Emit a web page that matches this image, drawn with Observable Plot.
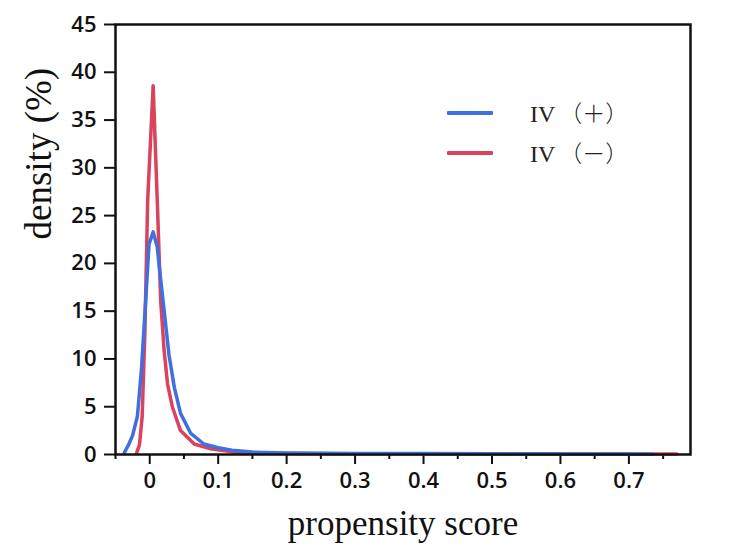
<!DOCTYPE html>
<html>
<head>
<meta charset="utf-8">
<script src="https://cdn.jsdelivr.net/npm/d3@7"></script>
<script src="https://cdn.jsdelivr.net/npm/@observablehq/plot@0.6"></script>
<style>
  html, body { margin: 0; padding: 0; background: #fff; }
  #wrap { position: relative; width: 750px; height: 556px; }
  .leg { position: absolute; left: 447px; display: flex; align-items: center; height: 24px; }
  .leg .sw { width: 46px; height: 4px; border-radius: 1px; }
  .leg .lab { margin-left: 37px; font-size: 23px; color: #222; white-space: nowrap; line-height: 24px; }
  .leg .iv { font-family: "Liberation Serif", serif; font-size: 24px; }
  .leg .pm { font-family: "Noto Sans CJK SC", sans-serif; font-weight: 300; margin-left: 4px; }
</style>
</head>
<body>
<div id="wrap"></div>
<script>
const seriesNames = ["IV（＋）", "IV（－）"];
const seriesColors = ["#3f6fe0", "#d9435b"];

// IV(+) series
const plusX = [-0.037, -0.031, -0.025, -0.018, -0.012, -0.006, -0.001, 0.005, 0.011, 0.014, 0.021, 0.028, 0.036, 0.045, 0.06, 0.079, 0.1, 0.12, 0.15, 0.2, 0.3, 0.4, 0.5, 0.6, 0.7, 0.735];
const plusY = [0.2, 1.0, 2.0, 4.0, 9.0, 16.0, 22.0, 23.3, 21.7, 19.6, 15.1, 10.5, 7.0, 4.3, 2.2, 1.1, 0.7, 0.45, 0.25, 0.15, 0.1, 0.1, 0.08, 0.06, 0.05, 0.03];

// IV(-) series
const minusX = [-0.019, -0.015, -0.011, -0.007, -0.003, 0.005, 0.011, 0.016, 0.021, 0.026, 0.033, 0.045, 0.065, 0.089, 0.123, 0.15, 0.2, 0.3, 0.4, 0.5, 0.6, 0.7, 0.77];
const minusY = [0.2, 1.0, 4.0, 13.0, 26.6, 38.6, 26.6, 16.1, 10.9, 7.4, 5.0, 2.5, 1.1, 0.6, 0.25, 0.15, 0.1, 0.08, 0.08, 0.05, 0.05, 0.05, 0.05];

const xMajorTicks = [0, 0.1, 0.2, 0.3, 0.4, 0.5, 0.6, 0.7];
const xMinorTicks = [-0.05, 0.05, 0.15, 0.25, 0.35, 0.45, 0.55, 0.65, 0.75];
const xTickLabels = ["0", "0.1", "0.2", "0.3", "0.4", "0.5", "0.6", "0.7"];
const yTicks = [0, 5, 10, 15, 20, 25, 30, 35, 40, 45];
const yTickLabels = ["0", "5", "10", "15", "20", "25", "30", "35", "40", "45"];

const xLabel = "propensity score";
const yLabel = "density (%)";

const plusData = plusX.map((x, i) => ({x, y: plusY[i]}));
const minusData = minusX.map((x, i) => ({x, y: minusY[i]}));

const tickFont = {fontFamily: "'Open Sans', sans-serif", fontSize: 22, fontWeight: 600};

const chart = Plot.plot({
  width: 750,
  height: 556,
  marginLeft: 115,
  marginRight: 60,
  marginTop: 24,
  marginBottom: 102,
  style: {background: "#fff", color: "#111", fontFamily: "'Open Sans', sans-serif"},
  x: {domain: [-0.05, 0.79], label: null},
  y: {domain: [0, 45], label: null},
  marks: [
    Plot.axisY({ticks: yTicks, tickSize: 11, tickPadding: 8, strokeWidth: 2,
      tickFormat: d => yTickLabels[yTicks.indexOf(d)], label: null, ...tickFont, fill: "#111"}),
    Plot.axisX({ticks: xMajorTicks, tickSize: 10, tickPadding: 8, strokeWidth: 2,
      tickFormat: d => xTickLabels[xMajorTicks.indexOf(d)], label: null, ...tickFont, fill: "#111"}),
    Plot.axisX({ticks: xMinorTicks, tickSize: 5, strokeWidth: 2, text: null, label: null}),
    Plot.line(minusData, {x: "x", y: "y", stroke: seriesColors[1], strokeWidth: 3.5, curve: "linear"}),
    Plot.line(plusData, {x: "x", y: "y", stroke: seriesColors[0], strokeWidth: 3.5, curve: "linear"}),
    Plot.frame({stroke: "#111", strokeWidth: 2.5}),
    Plot.text([yLabel], {text: d => d, frameAnchor: "left", rotate: -90, dx: -76,
      fontFamily: "'Liberation Serif', serif", fontSize: 37, fill: "#111"}),
    Plot.text([xLabel], {text: d => d, frameAnchor: "bottom", dy: 80,
      fontFamily: "'Liberation Serif', serif", fontSize: 35, fill: "#111"})
  ]
});

const wrap = document.getElementById("wrap");
wrap.appendChild(chart);

const legendTops = [101, 141];
seriesNames.forEach((name, i) => {
  const row = document.createElement("div");
  row.className = "leg";
  row.style.top = legendTops[i] + "px";
  const sw = document.createElement("div");
  sw.className = "sw";
  sw.style.background = seriesColors[i];
  const lab = document.createElement("div");
  lab.className = "lab";
  const iv = document.createElement("span");
  iv.className = "iv";
  iv.textContent = name.slice(0, 2);
  const pm = document.createElement("span");
  pm.className = "pm";
  pm.textContent = name.slice(2);
  lab.appendChild(iv);
  lab.appendChild(pm);
  row.appendChild(sw);
  row.appendChild(lab);
  wrap.appendChild(row);
});
</script>
</body>
</html>
